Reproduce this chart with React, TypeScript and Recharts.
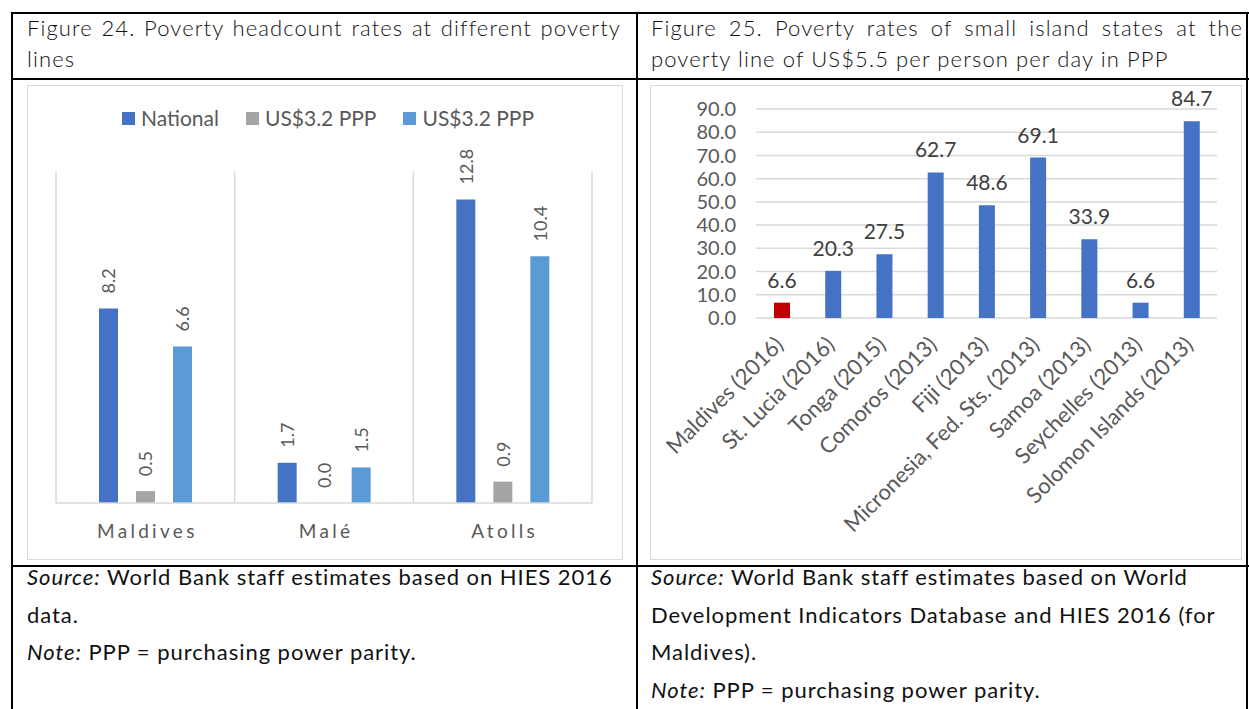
import React from 'react';
import { BarChart, Bar, XAxis, YAxis, CartesianGrid, Legend, LabelList, Cell } from 'recharts';

const FONT = 'Lato, "Open Sans", sans-serif';

// Figure 24
const areas = ['Maldives', 'Malé', 'Atolls'];
const nationalRates = [8.2, 1.7, 12.8];
const ppp32Rates = [0.5, 0.0, 0.9];
const ppp32bRates = [6.6, 1.5, 10.4];
const seriesNames = ['National', 'US$3.2 PPP', 'US$3.2 PPP'];

// Figure 25
const countries = [
  'Maldives (2016)',
  'St. Lucia (2016)',
  'Tonga (2015)',
  'Comoros (2013)',
  'Fiji (2013)',
  'Micronesia, Fed. Sts. (2013)',
  'Samoa (2013)',
  'Seychelles (2013)',
  'Solomon Islands (2013)',
];
const rates55 = [6.6, 20.3, 27.5, 62.7, 48.6, 69.1, 33.9, 6.6, 84.7];
const rateTicks = [0, 10, 20, 30, 40, 50, 60, 70, 80, 90];

const fig24Data = areas.map((area, i) => ({
  area,
  national: nationalRates[i],
  ppp32: ppp32Rates[i],
  ppp32b: ppp32bRates[i],
}));

const fig25Data = countries.map((country, i) => ({ country, rate: rates55[i] }));

const VerticalLabel = (props: any) => {
  const { x, y, width, value } = props;
  const cx = x + width / 2;
  const cy = y - 15;
  return (
    <text
      x={cx}
      y={cy}
      transform={`rotate(-90, ${cx}, ${cy})`}
      textAnchor="start"
      dominantBaseline="central"
      fill="#595959"
      fontSize={18}
      fontFamily={FONT}
    >
      {Number(value).toFixed(1)}
    </text>
  );
};

const SpacedTick = (props: any) => {
  const { x, y, payload } = props;
  return (
    <text x={x + 2} y={y + 27} textAnchor="middle" fill="#595959" fontSize={19} fontFamily={FONT} letterSpacing={3.3}>
      {payload.value}
    </text>
  );
};

const SlantTick = (props: any) => {
  const { x, y, payload } = props;
  const ax = x + 3;
  const ay = y + 20;
  return (
    <text
      x={ax}
      y={ay}
      transform={`rotate(-45, ${ax}, ${ay})`}
      textAnchor="end"
      fill="#595959"
      fontSize={22}
      fontFamily={FONT}
    >
      {payload.value}
    </text>
  );
};

const Fig24Legend = (props: any) => {
  const items = props.payload || [];
  return (
    <div style={{ display: 'flex', justifyContent: 'center', gap: 27, fontFamily: FONT, fontSize: 21, color: '#595959', lineHeight: '24px', paddingLeft: 8 }}>
      {items.map((it: any, i: number) => (
        <div key={i} style={{ display: 'flex', alignItems: 'center' }}>
          <span style={{ width: 13, height: 13, background: it.color, display: 'inline-block', marginRight: 6 }} />
          <span>{it.value}</span>
        </div>
      ))}
    </div>
  );
};

const line = (style: React.CSSProperties) => (
  <div style={{ position: 'absolute', background: '#000', ...style }} />
);

const App = () => {
  const textLine = (left: number, top: number, width: number, content: React.ReactNode, justify = false, extra: React.CSSProperties = {}) => (
    <div
      style={{
        position: 'absolute',
        left,
        top,
        width,
        whiteSpace: 'nowrap',
        textAlign: justify ? 'justify' : 'left',
        textAlignLast: justify ? 'justify' : 'left',
        ...extra,
      }}
    >
      {content}
    </div>
  );

  const headStyle: React.CSSProperties = { fontFamily: FONT, fontSize: 22, fontWeight: 300, lineHeight: '31px', color: '#111', letterSpacing: 1.1 };
  const capStyle: React.CSSProperties = { fontFamily: FONT, fontSize: 22, lineHeight: '37.5px', color: '#111', letterSpacing: 0.95 };

  return (
    <div style={{ position: 'absolute', left: 0, top: 0, width: 1249, height: 709, overflow: 'hidden', background: '#fff' }}>
      {/* table borders */}
      {line({ left: 11, top: 12, width: 1238, height: 2 })}
      {line({ left: 11, top: 78, width: 1238, height: 2 })}
      {line({ left: 11, top: 565, width: 1238, height: 2 })}
      {line({ left: 11, top: 12, width: 2, height: 697 })}
      {line({ left: 636, top: 12, width: 2, height: 697 })}
      {line({ left: 1246, top: 12, width: 2, height: 697 })}

      {/* headers */}
      {textLine(27, 12, 594, 'Figure 24. Poverty headcount rates at different poverty', true, headStyle)}
      {textLine(27, 43, 594, 'lines', false, headStyle)}
      {textLine(651, 12, 592, 'Figure 25. Poverty rates of small island states at the', true, headStyle)}
      {textLine(651, 43, 592, 'poverty line of US$5.5 per person per day in PPP', false, headStyle)}

      {/* Figure 24 chart */}
      <div style={{ position: 'absolute', left: 27, top: 85, width: 596, height: 475, border: '1px solid #d9d9d9', boxSizing: 'border-box' }}>
        <BarChart width={594} height={473} data={fig24Data} margin={{ top: 85, right: 30, bottom: 6, left: 28 }} barSize={19} barGap={18}>
          <CartesianGrid
            horizontal={false}
            stroke="#d9d9d9"
            strokeWidth={1.5}
            verticalCoordinatesGenerator={({ offset }: any) =>
              areas.map((_, i) => offset.left + (offset.width * i) / areas.length).concat(offset.left + offset.width)
            }
          />
          <XAxis dataKey="area" axisLine={{ stroke: '#d9d9d9', strokeWidth: 1.5 }} tickLine={false} height={50} tick={<SpacedTick />} interval={0} />
          <YAxis hide domain={[0, 14]} />
          <Legend
            verticalAlign="middle"
            align="center"
            layout="horizontal"
            wrapperStyle={{ top: 20 }}
            content={<Fig24Legend />}
          />
          <Bar dataKey="national" name={seriesNames[0]} fill="#4472C4" isAnimationActive={false}>
            <LabelList dataKey="national" content={<VerticalLabel />} />
          </Bar>
          <Bar dataKey="ppp32" name={seriesNames[1]} fill="#A5A5A5" minPointSize={0.01} isAnimationActive={false}>
            <LabelList dataKey="ppp32" content={<VerticalLabel />} />
          </Bar>
          <Bar dataKey="ppp32b" name={seriesNames[2]} fill="#5B9BD5" isAnimationActive={false}>
            <LabelList dataKey="ppp32b" content={<VerticalLabel />} />
          </Bar>
        </BarChart>
      </div>

      {/* Figure 25 chart */}
      <div style={{ position: 'absolute', left: 650, top: 85, width: 592, height: 475, border: '1px solid #d9d9d9', boxSizing: 'border-box' }}>
        <BarChart width={590} height={473} data={fig25Data} margin={{ top: 23, right: 24, bottom: 6, left: 5 }} barSize={16} style={{ overflow: 'visible' }}>
          <CartesianGrid vertical={false} stroke="#d9d9d9" strokeWidth={1.5} />
          <XAxis dataKey="country" axisLine={false} tickLine={false} height={235} interval={0} tick={<SlantTick />} />
          <YAxis
            width={100}
            domain={[0, 90]}
            ticks={rateTicks}
            interval={0}
            axisLine={false}
            tickLine={false}
            tickMargin={14}
            tickFormatter={(v: number) => v.toFixed(1)}
            tick={{ fill: '#595959', fontSize: 20, fontFamily: FONT }}
          />
          <Bar dataKey="rate" isAnimationActive={false}>
            {fig25Data.map((d, i) => (
              <Cell key={i} fill={i === 0 ? '#C00000' : '#4472C4'} />
            ))}
            <LabelList
              dataKey="rate"
              position="top"
              offset={15}
              formatter={(v: any) => Number(v).toFixed(1)}
              style={{ fill: '#404040', fontSize: 21, fontFamily: FONT }}
            />
          </Bar>
        </BarChart>
      </div>

      {/* captions */}
      {textLine(27, 558, 600, <><i>Source:</i> World Bank staff estimates based on HIES 2016</>, false, capStyle)}
      {textLine(27, 595.5, 600, 'data.', false, capStyle)}
      {textLine(27, 633, 600, <><i>Note:</i> PPP = purchasing power parity.</>, false, capStyle)}
      {textLine(651, 558, 592, <><i>Source:</i> World Bank staff estimates based on World</>, false, capStyle)}
      {textLine(651, 595.5, 592, 'Development Indicators Database and HIES 2016 (for', false, capStyle)}
      {textLine(651, 633, 592, 'Maldives).', false, capStyle)}
      {textLine(651, 670.5, 592, <><i>Note:</i> PPP = purchasing power parity.</>, false, capStyle)}
    </div>
  );
};

export default App;
